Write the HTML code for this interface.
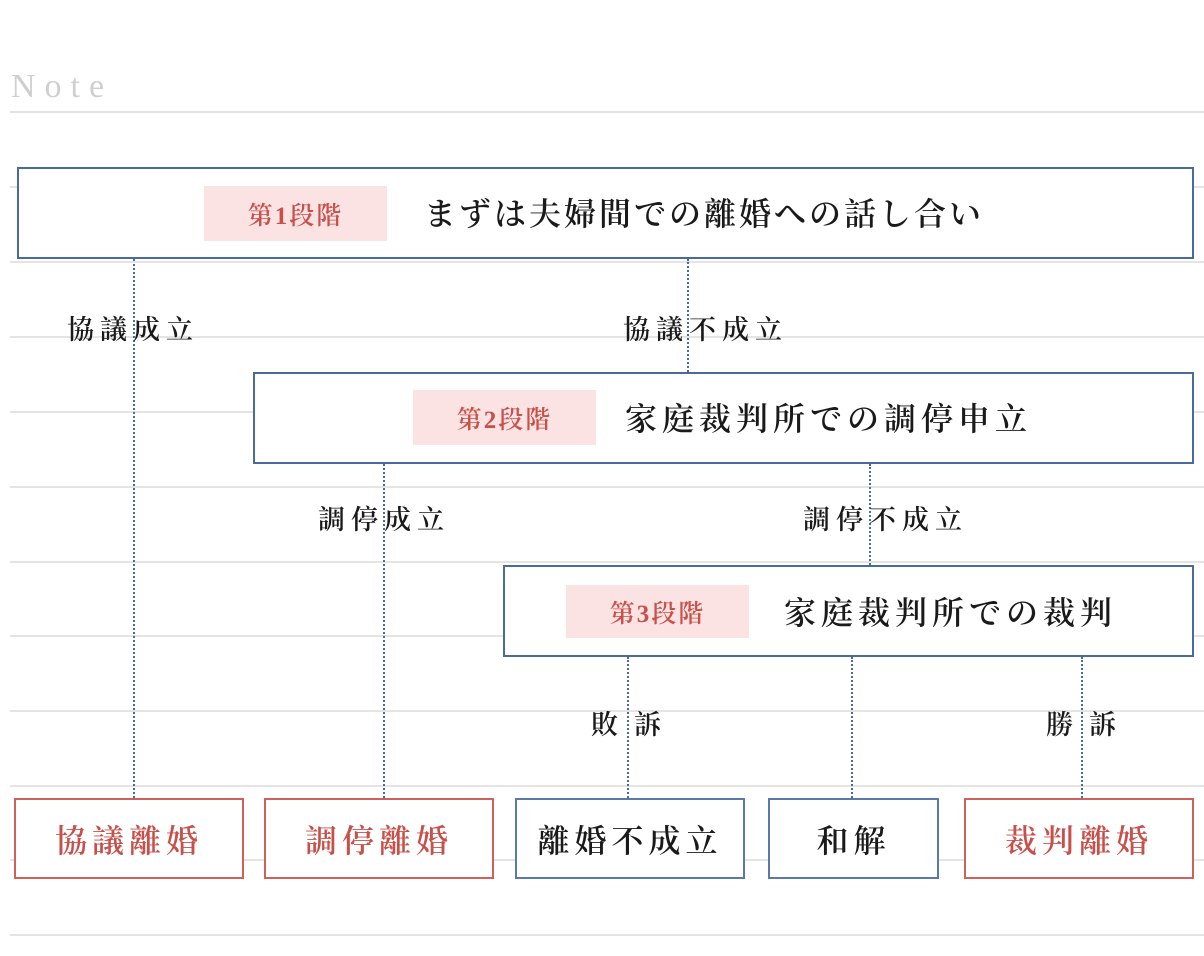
<!DOCTYPE html>
<html><head><meta charset="utf-8"><style>
body{margin:0;width:1204px;height:956px;background:#fff;position:relative;overflow:hidden;font-family:"Liberation Serif","Noto Serif CJK SC",serif;color:#1a1a1a}
.r{position:absolute;left:10px;right:0;height:2px;background:#e6e3e3}
.b{position:absolute;border:2px solid #4a6a9c;box-sizing:border-box}
.bd{position:absolute;border:2px solid #5a78a8;box-sizing:border-box;display:flex;align-items:center;justify-content:center;font-size:32px;letter-spacing:5px;font-weight:600}
.red{border-color:#d0605a;color:#c9504a}
.badge{position:absolute;background:#fbe3e3;color:#c9504a;font-size:25px;display:flex;align-items:center;justify-content:center;letter-spacing:2px;font-weight:600}
.t{position:absolute;font-size:32px;letter-spacing:3px;white-space:nowrap;line-height:1;font-weight:600}
.l{position:absolute;font-size:27px;letter-spacing:6px;white-space:nowrap;line-height:1;font-weight:600}
.v{position:absolute;width:0;border-left:2px dotted #4a6a9c}
</style></head><body>
<div style="position:absolute;left:11px;top:68px;font-size:34px;letter-spacing:9px;color:#cfcfcf">Note</div>
<div class="r" style="top:111px"></div><div class="r" style="top:186px"></div><div class="r" style="top:261px"></div><div class="r" style="top:336px"></div><div class="r" style="top:411px"></div><div class="r" style="top:486px"></div><div class="r" style="top:561px"></div><div class="r" style="top:635px"></div><div class="r" style="top:710px"></div><div class="r" style="top:785px"></div><div class="r" style="top:859px"></div><div class="r" style="top:934px"></div>

<div class="v" style="left:133px;top:259px;height:539px"></div>
<div class="v" style="left:687px;top:259px;height:113px"></div>
<div class="v" style="left:383px;top:464px;height:334px"></div>
<div class="v" style="left:869px;top:464px;height:101px"></div>
<div class="v" style="left:627px;top:657px;height:141px"></div>
<div class="v" style="left:851px;top:657px;height:141px"></div>
<div class="v" style="left:1081px;top:657px;height:141px"></div>

<div class="b" style="left:17px;top:167px;width:1177px;height:92px;background:#fff"></div>
<div class="badge" style="left:204px;top:186px;width:183px;height:55px">第1段階</div>
<div class="t" style="left:424px;top:198px">まずは夫婦間での離婚への話し合い</div>

<div class="b" style="left:253px;top:372px;width:941px;height:92px;background:#fff"></div>
<div class="badge" style="left:413px;top:390px;width:183px;height:55px">第2段階</div>
<div class="t" style="left:625px;top:403px;letter-spacing:5px">家庭裁判所での調停申立</div>

<div class="b" style="left:503px;top:565px;width:691px;height:92px;background:#fff"></div>
<div class="badge" style="left:566px;top:585px;width:183px;height:53px">第3段階</div>
<div class="t" style="left:784px;top:597px;letter-spacing:5px">家庭裁判所での裁判</div>

<div class="l" style="left:67px;top:317px">協議成立</div>
<div class="l" style="left:623px;top:317px">協議不成立</div>
<div class="l" style="left:318px;top:507px">調停成立</div>
<div class="l" style="left:803px;top:507px">調停不成立</div>
<div class="l" style="left:591px;top:712px;letter-spacing:16px">敗訴</div>
<div class="l" style="left:1046px;top:712px;letter-spacing:16px">勝訴</div>

<div class="bd red" style="left:14px;top:798px;width:230px;height:81px;background:#fff">協議離婚</div>
<div class="bd red" style="left:264px;top:798px;width:230px;height:81px;background:#fff">調停離婚</div>
<div class="bd" style="left:515px;top:798px;width:230px;height:81px;background:#fff">離婚不成立</div>
<div class="bd" style="left:768px;top:798px;width:171px;height:81px;background:#fff">和解</div>
<div class="bd red" style="left:964px;top:798px;width:230px;height:81px;background:#fff">裁判離婚</div>
</body></html>
